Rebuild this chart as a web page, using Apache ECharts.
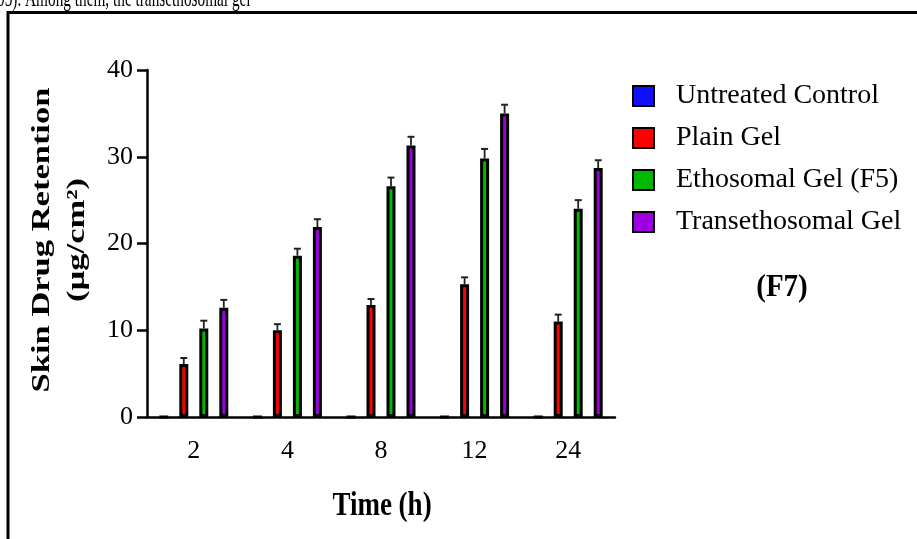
<!DOCTYPE html>
<html><head><meta charset="utf-8">
<script src="https://cdn.jsdelivr.net/npm/echarts@6.0.0/dist/echarts.min.js"></script>
<style>html,body{margin:0;padding:0;background:#fff;}#c{width:917px;height:539px;}</style>
</head><body><div id="c"></div>
<script>
// ---- data ----
const categories = ['2', '4', '8', '12', '24'];
const seriesNames = ['Untreated Control', 'Plain Gel', 'Ethosomal Gel (F5)', 'Transethosomal Gel'];
const untreatedControl = [0, 0, 0, 0, 0];
const plainGel = [6.1, 10.0, 12.9, 15.3, 11.0];
const ethosomalGel = [10.2, 18.6, 26.6, 29.8, 24.0];
const transethosomalGel = [12.6, 21.9, 31.3, 35.0, 28.7];
const plainGelErr = [0.7, 0.7, 0.7, 0.8, 0.8];
const ethosomalGelErr = [0.9, 0.8, 1.0, 1.1, 1.0];
const transethosomalGelErr = [0.9, 0.9, 1.0, 1.0, 0.9];
const yMin = 0, yMax = 40, yStep = 10;
const xTitle = 'Time (h)';
const yTitle = 'Skin Drug Retention\n(µg/cm²)';
const panelTag = '(F7)';
const topText = '05). Among them, the transethosomal gel';

// ---- style ----
const colors = ['#1010ff', '#ff0000', '#00b800', '#9c00e0'];
const FONT = '"Liberation Serif", "Times New Roman", serif';
const BAR_W = 9, BAR_GAP_PX = 11, BAR_STEP = BAR_W + BAR_GAP_PX;

const valuesList = [untreatedControl, plainGel, ethosomalGel, transethosomalGel];
const errList = [null, plainGelErr, ethosomalGelErr, transethosomalGelErr];

const series = [];
valuesList.forEach((vals, i) => {
  series.push({
    type: 'bar', name: seriesNames[i], data: vals,
    barWidth: BAR_W, barGap: (BAR_GAP_PX / BAR_W * 100).toFixed(2) + '%',
    itemStyle: { color: colors[i], borderColor: '#000', borderWidth: 3 },
    z: 2
  });
});
errList.forEach((errs, i) => {
  if (!errs) return;
  const vals = valuesList[i];
  series.push({
    type: 'custom', name: seriesNames[i] + ' SD', silent: true, z: 1,
    data: vals.map((v, k) => [k, v, errs[k]]),
    encode: { x: 0, y: 1 },
    renderItem(params, api) {
      const ci = api.value(0), v = api.value(1), e = api.value(2);
      const base = api.coord([ci, v]);
      const top = api.coord([ci, v + e]);
      const x = base[0] + (i - 1.5) * BAR_STEP;
      return { type: 'group', children: [
        { type: 'line', shape: { x1: x, y1: base[1], x2: x, y2: top[1] }, style: { stroke: '#222', lineWidth: 1.8 } },
        { type: 'line', shape: { x1: x - 3.5, y1: top[1], x2: x + 3.5, y2: top[1] }, style: { stroke: '#222', lineWidth: 2 } }
      ]};
    }
  });
});

const chart = echarts.init(document.getElementById('c'), null, { renderer: 'canvas' });
chart.setOption({
  animation: false,
  backgroundColor: '#fff',
  grid: { left: 147, top: 70, width: 468, height: 347, containLabel: false },
  legend: {
    data: seriesNames, orient: 'vertical', left: 627, top: 76,
    itemWidth: 21, itemHeight: 20, itemGap: 12, icon: 'rect',
    textStyle: { fontFamily: FONT, fontSize: 28, color: '#000', lineHeight: 30, padding: [0, 0, 0, 17] }
  },
  xAxis: {
    type: 'category', data: categories,
    axisLine: { lineStyle: { color: '#000', width: 2.5 } },
    axisTick: { alignWithLabel: true, length: 9, lineStyle: { color: '#000', width: 2.5 } },
    axisLabel: { fontFamily: FONT, fontSize: 26, color: '#000', margin: 21 }
  },
  yAxis: {
    type: 'value', min: yMin, max: yMax, interval: yStep,
    axisLine: { show: true, lineStyle: { color: '#000', width: 2.5 } },
    axisTick: { show: true, length: 10, lineStyle: { color: '#000', width: 2.5 } },
    axisLabel: { fontFamily: FONT, fontSize: 26, color: '#000', margin: 14 },
    splitLine: { show: false }
  },
  graphic: [
    { type: 'rect', shape: { x: 8, y: 12.5, width: 1200, height: 1000 }, style: { fill: 'none', stroke: '#000', lineWidth: 3 }, silent: true },
    { type: 'text', x: -3, y: 12, scaleY: 1.7, style: { text: topText, font: '15.3px ' + FONT, fill: '#000', align: 'left', verticalAlign: 'bottom' }, silent: true },
    { type: 'text', x: 60, y: 240, rotation: Math.PI / 2, scaleX: 1.38, style: { text: yTitle, font: 'bold 25px ' + FONT, fill: '#000', align: 'center', verticalAlign: 'middle', lineHeight: 35 }, silent: true },
    { type: 'text', x: 382, y: 506, scaleY: 1.25, style: { text: xTitle, font: 'bold 27px ' + FONT, fill: '#000', align: 'center', verticalAlign: 'middle' }, silent: true },
    { type: 'text', x: 782, y: 288, scaleY: 1.1, style: { text: panelTag, font: 'bold 29px ' + FONT, fill: '#000', align: 'center', verticalAlign: 'middle' }, silent: true }
  ],
  series: series
});
</script>
</body></html>
